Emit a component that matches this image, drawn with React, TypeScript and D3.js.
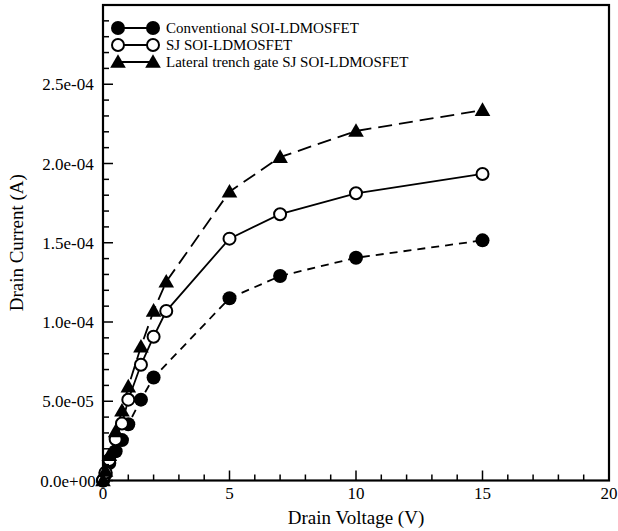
import React from "react";
import * as d3 from "d3";

const convV = [0, 0.1, 0.25, 0.5, 0.75, 1.0, 1.5, 2.0, 5, 7, 10, 15];
const convI = [0, 0.4e-5, 1.1e-5, 1.85e-5, 2.55e-5, 3.55e-5, 5.1e-5, 6.5e-5, 1.15e-4, 1.29e-4, 1.405e-4, 1.515e-4];

const sjV = [0, 0.1, 0.25, 0.5, 0.75, 1.0, 1.5, 2.0, 2.5, 5, 7, 10, 15];
const sjI = [0, 0.5e-5, 1.3e-5, 2.6e-5, 3.6e-5, 5.1e-5, 7.3e-5, 9.07e-5, 1.069e-4, 1.526e-4, 1.68e-4, 1.812e-4, 1.934e-4];

const ltgV = [0, 0.1, 0.25, 0.5, 0.75, 1.0, 1.5, 2.0, 2.5, 5, 7, 10, 15];
const ltgI = [0, 0.6e-5, 1.6e-5, 3.1e-5, 4.4e-5, 5.92e-5, 8.44e-5, 1.07e-4, 1.254e-4, 1.822e-4, 2.04e-4, 2.205e-4, 2.337e-4];

const xMajorTicks = [0, 5, 10, 15, 20];
const xMinorTicks = d3.range(0, 20, 1).filter((v) => v % 5 !== 0);
const yMajorTicks = [0, 5e-5, 1e-4, 1.5e-4, 2e-4, 2.5e-4];
const yMajorLabels = ["0.0e+00", "5.0e-05", "1.0e-04", "1.5e-04", "2.0e-04", "2.5e-04"];
const yMinorTicks = d3.range(1, 30).map((k) => k * 1e-5).filter((_, i) => (i + 1) % 5 !== 0);

const legendLabels = [
  "Conventional SOI-LDMOSFET",
  "SJ SOI-LDMOSFET",
  "Lateral trench gate SJ SOI-LDMOSFET",
];

const W = 618, H = 531;
const L = 103, R = 609, T = 5, B = 480.5;
const FONT = "'Liberation Serif', 'Times New Roman', serif";

function Marker({ kind, x, y }: { kind: string; x: number; y: number }) {
  if (kind === "filled") return <circle cx={x} cy={y} r={7} fill="#000" />;
  if (kind === "open") return <circle cx={x} cy={y} r={6} fill="#fff" stroke="#000" strokeWidth={2} />;
  const s = 7.8;
  return <path d={`M${x},${y - s}L${x + s},${y + s * 0.75}L${x - s},${y + s * 0.75}Z`} fill="#000" />;
}

export default function App() {
  const x = d3.scaleLinear().domain([0, 20]).range([L, R]);
  const y = d3.scaleLinear().domain([0, 3e-4]).range([B, T]);
  const series = [
    { v: convV, i: convI, kind: "filled", dash: "8,6" },
    { v: sjV, i: sjI, kind: "open", dash: "none" },
    { v: ltgV, i: ltgI, kind: "tri", dash: "14,7" },
  ];
  const line = d3.line<[number, number]>().x((d) => x(d[0])).y((d) => y(d[1]));
  const legY = [28, 45, 62];
  return (
    <svg width={W} height={H} style={{ position: "absolute", left: 0, top: 0, background: "#fff" }} fontFamily={FONT}>
      <rect width={W} height={H} fill="#fff" />
      {series.map((s, k) => (
        <path key={"l" + k} d={line(s.v.map((v, j) => [v, s.i[j]] as [number, number])) || ""} fill="none" stroke="#000" strokeWidth={1.8} strokeDasharray={s.dash} />
      ))}
      {series.map((s, k) => (
        <g key={"m" + k}>
          {s.v.map((v, j) => (
            <Marker key={j} kind={s.kind} x={x(v)} y={y(s.i[j])} />
          ))}
        </g>
      ))}
      {xMajorTicks.map((t) => (
        <line key={"xM" + t} x1={x(t)} x2={x(t)} y1={B} y2={B - 10} stroke="#000" strokeWidth={1.5} />
      ))}
      {xMinorTicks.map((t) => (
        <line key={"xm" + t} x1={x(t)} x2={x(t)} y1={B} y2={B - 6} stroke="#000" strokeWidth={1.5} />
      ))}
      {yMajorTicks.map((t) => (
        <line key={"yM" + t} x1={L} x2={L + 10} y1={y(t)} y2={y(t)} stroke="#000" strokeWidth={1.5} />
      ))}
      {yMinorTicks.map((t) => (
        <line key={"ym" + t} x1={L} x2={L + 6} y1={y(t)} y2={y(t)} stroke="#000" strokeWidth={1.5} />
      ))}
      <rect x={L} y={T} width={R - L} height={B - T} fill="none" stroke="#000" strokeWidth={2.2} />
      {xMajorTicks.map((t) => (
        <text key={"xl" + t} x={x(t)} y={499} textAnchor="middle" fontSize={17}>{t}</text>
      ))}
      {yMajorTicks.map((t, k) => (
        <text key={"yl" + t} x={68} y={y(t) + 6} textAnchor="middle" fontSize={17}>{yMajorLabels[k]}</text>
      ))}
      <text x={(L + R) / 2} y={524} textAnchor="middle" fontSize={19}>Drain Voltage (V)</text>
      <text transform={`translate(23,${(T + B) / 2}) rotate(-90)`} textAnchor="middle" fontSize={19}>Drain Current (A)</text>
      {series.map((s, k) => (
        <g key={"lg" + k}>
          <line x1={118} x2={153} y1={legY[k]} y2={legY[k]} stroke="#000" strokeWidth={1.8} />
          <Marker kind={s.kind} x={118} y={legY[k]} />
          <Marker kind={s.kind} x={153} y={legY[k]} />
          <text x={166} y={legY[k] + 5} fontSize={15}>{legendLabels[k]}</text>
        </g>
      ))}
    </svg>
  );
}
